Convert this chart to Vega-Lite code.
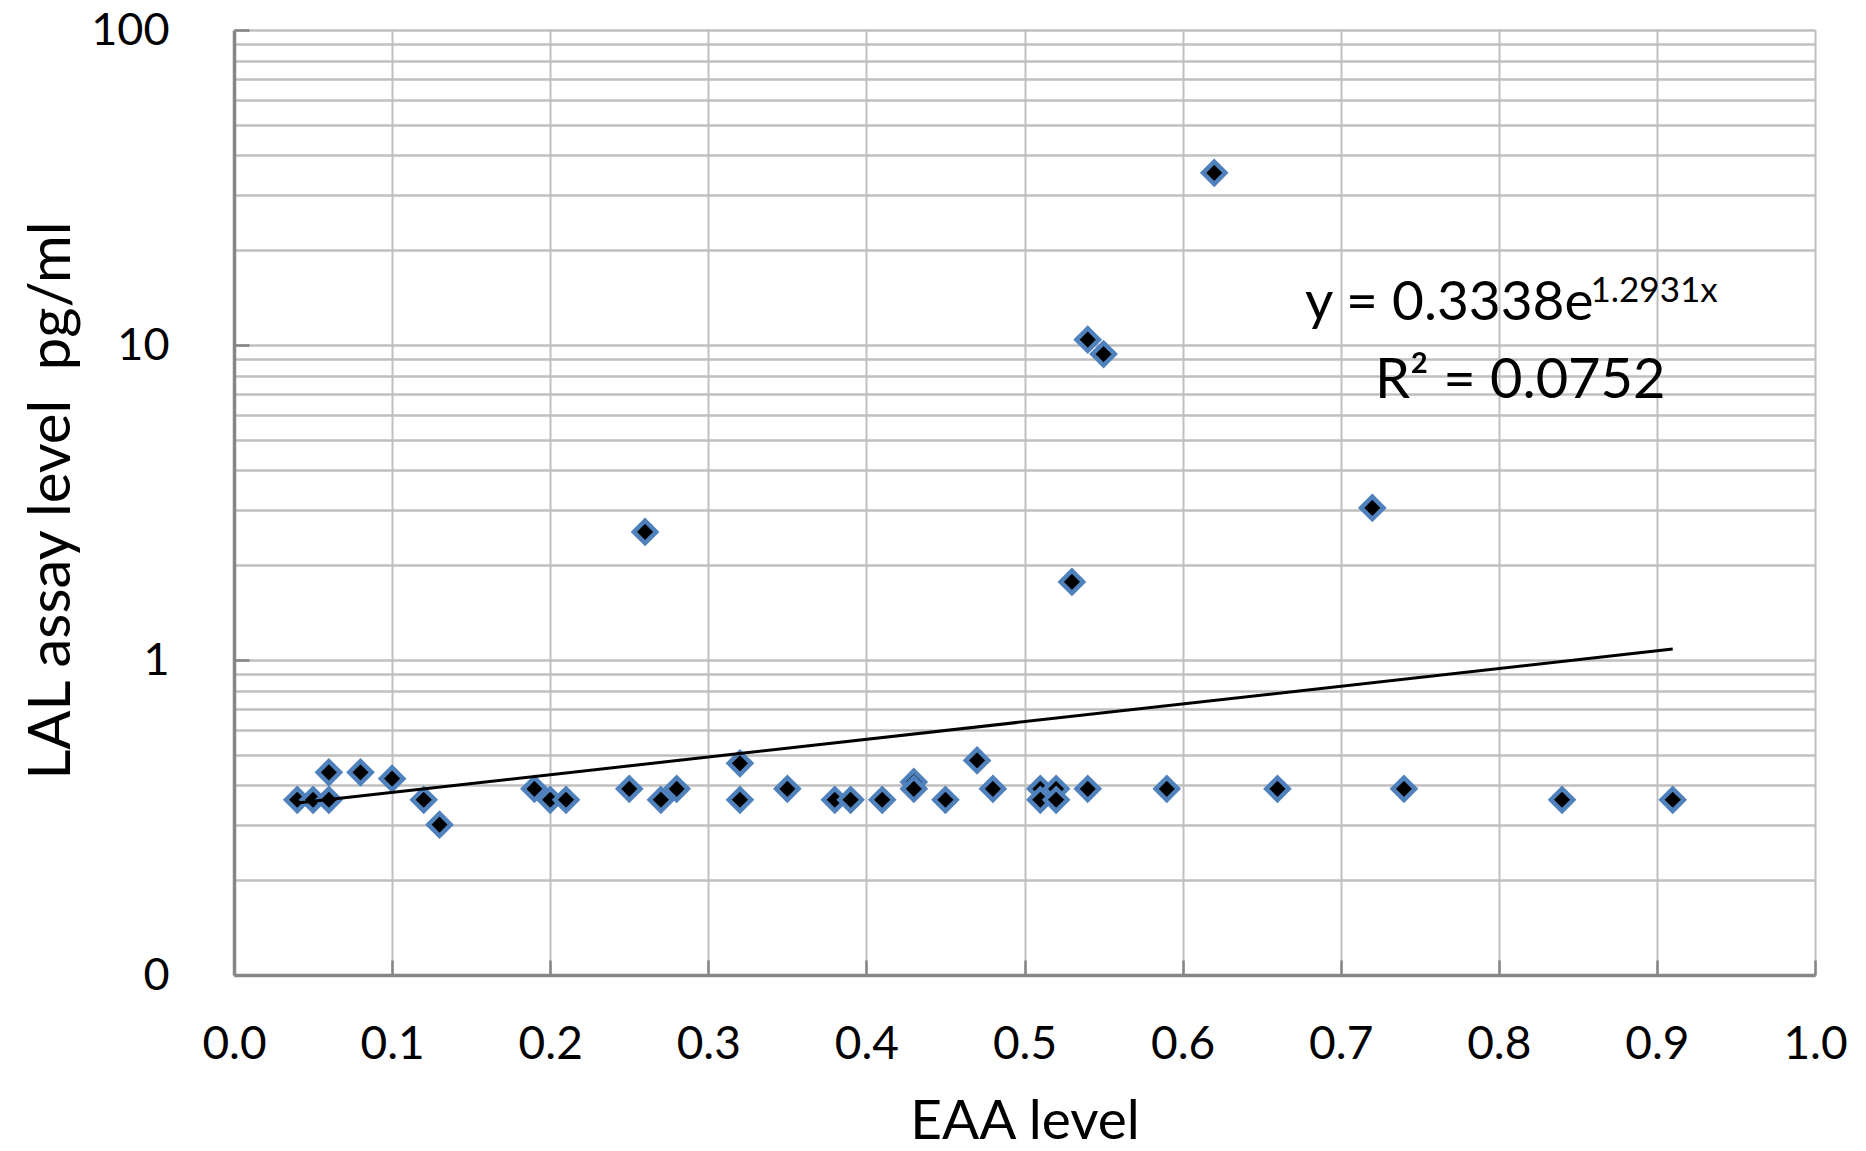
{
  "$schema": "https://vega.github.io/schema/vega-lite/v6.json",
  "width": 1581,
  "height": 945,
  "autosize": "none",
  "padding": {"left": 234, "top": 30, "right": 51, "bottom": 176},
  "background": "white",
  "config": {
    "font": "Lato",
    "view": {"stroke": null},
    "axis": {
      "gridColor": "#bfbfbf",
      "gridWidth": 2.5,
      "domainColor": "#868686",
      "domainWidth": 3.5,
      "tickColor": "#868686",
      "tickWidth": 2.5,
      "labelColor": "#000000",
      "titleColor": "#000000",
      "labelFont": "Lato",
      "titleFont": "Lato",
      "titleFontWeight": "normal"
    }
  },
  "datasets": {
    "points": [
      {"eaa": 0.04, "lal": 0.36},
      {"eaa": 0.05, "lal": 0.36},
      {"eaa": 0.06, "lal": 0.44},
      {"eaa": 0.06, "lal": 0.36},
      {"eaa": 0.08, "lal": 0.44},
      {"eaa": 0.10, "lal": 0.42},
      {"eaa": 0.12, "lal": 0.36},
      {"eaa": 0.13, "lal": 0.30},
      {"eaa": 0.19, "lal": 0.39},
      {"eaa": 0.20, "lal": 0.36},
      {"eaa": 0.21, "lal": 0.36},
      {"eaa": 0.25, "lal": 0.39},
      {"eaa": 0.26, "lal": 2.55},
      {"eaa": 0.27, "lal": 0.36},
      {"eaa": 0.28, "lal": 0.39},
      {"eaa": 0.32, "lal": 0.47},
      {"eaa": 0.32, "lal": 0.36},
      {"eaa": 0.35, "lal": 0.39},
      {"eaa": 0.38, "lal": 0.36},
      {"eaa": 0.39, "lal": 0.36},
      {"eaa": 0.41, "lal": 0.36},
      {"eaa": 0.43, "lal": 0.41},
      {"eaa": 0.43, "lal": 0.39},
      {"eaa": 0.45, "lal": 0.36},
      {"eaa": 0.47, "lal": 0.48},
      {"eaa": 0.48, "lal": 0.39},
      {"eaa": 0.51, "lal": 0.39},
      {"eaa": 0.51, "lal": 0.36},
      {"eaa": 0.52, "lal": 0.39},
      {"eaa": 0.52, "lal": 0.36},
      {"eaa": 0.53, "lal": 1.77},
      {"eaa": 0.54, "lal": 0.39},
      {"eaa": 0.54, "lal": 10.4},
      {"eaa": 0.55, "lal": 9.36},
      {"eaa": 0.59, "lal": 0.39},
      {"eaa": 0.62, "lal": 35.2},
      {"eaa": 0.66, "lal": 0.39},
      {"eaa": 0.72, "lal": 3.04},
      {"eaa": 0.74, "lal": 0.39},
      {"eaa": 0.84, "lal": 0.36},
      {"eaa": 0.91, "lal": 0.36}
    ],
    "trend": [
      {"eaa": 0.04, "lal": 0.3515},
      {"eaa": 0.91, "lal": 1.083}
    ],
    "one": [{}]
  },
  "layer": [
    {
      "data": {"name": "points"},
      "mark": {"type": "point", "shape": "diamond", "filled": true, "fill": "#000000", "stroke": "#4f81bd", "strokeWidth": 4.5, "size": 500, "opacity": 1},
      "encoding": {
        "x": {
          "field": "eaa", "type": "quantitative",
          "scale": {"domain": [0, 1], "nice": false, "zero": false},
          "axis": {
            "values": [0, 0.1, 0.2, 0.3, 0.4, 0.5, 0.6, 0.7, 0.8, 0.9, 1.0],
            "format": ".1f",
            "grid": true,
            "gridWidth": 2,
            "tickSize": -15,
            "labelFontSize": 46,
            "labelPadding": 62,
            "labelFlush": false,
            "title": "EAA level",
            "titleFontSize": 55,
            "titleBaseline": "alphabetic",
            "titleY": 163
          }
        },
        "y": {
          "field": "lal", "type": "quantitative",
          "scale": {"type": "log", "domain": [0.1, 100], "nice": false},
          "axis": {
            "values": [0.1, 0.2, 0.3, 0.4, 0.5, 0.6, 0.7, 0.8, 0.9, 1, 2, 3, 4, 5, 6, 7, 8, 9, 10, 20, 30, 40, 50, 60, 70, 80, 90, 100],
            "labelExpr": "abs(log(datum.value)/LN10 - round(log(datum.value)/LN10)) < 0.001 ? (datum.value < 0.5 ? '0' : format(datum.value, 'd')) : ''",
            "tickOpacity": {"condition": {"test": "abs(log(datum.value)/LN10 - round(log(datum.value)/LN10)) < 0.001", "value": 1}, "value": 0},
            "tickSize": -15,
            "grid": true,
            "labelFontSize": 45,
            "labelPadding": 80,
            "labelFlush": false,
            "title": "LAL assay level \u00a0pg/ml",
            "titleFontSize": 58,
            "titleBaseline": "alphabetic",
            "titleX": -165,
            "titleY": 470
          }
        }
      }
    },
    {
      "data": {"name": "trend"},
      "mark": {"type": "line", "color": "#000000", "strokeWidth": 3},
      "encoding": {
        "x": {"field": "eaa", "type": "quantitative"},
        "y": {"field": "lal", "type": "quantitative"}
      }
    },
    {
      "data": {"name": "one"},
      "mark": {"type": "text", "text": "y = 0.3338e", "fontSize": 55, "align": "left", "baseline": "alphabetic", "color": "#000000"},
      "encoding": {
        "x": {"datum": 0.6774, "type": "quantitative"},
        "y": {"datum": 12.0, "type": "quantitative"}
      }
    },
    {
      "data": {"name": "one"},
      "mark": {"type": "text", "text": "1.2931x", "fontSize": 35, "align": "left", "baseline": "alphabetic", "color": "#000000"},
      "encoding": {
        "x": {"datum": 0.858, "type": "quantitative"},
        "y": {"datum": 13.7, "type": "quantitative"}
      }
    },
    {
      "data": {"name": "one"},
      "mark": {"type": "text", "text": "R² = 0.0752", "fontSize": 56, "align": "left", "baseline": "alphabetic", "color": "#000000"},
      "encoding": {
        "x": {"datum": 0.7217, "type": "quantitative"},
        "y": {"datum": 6.79, "type": "quantitative"}
      }
    }
  ]
}
